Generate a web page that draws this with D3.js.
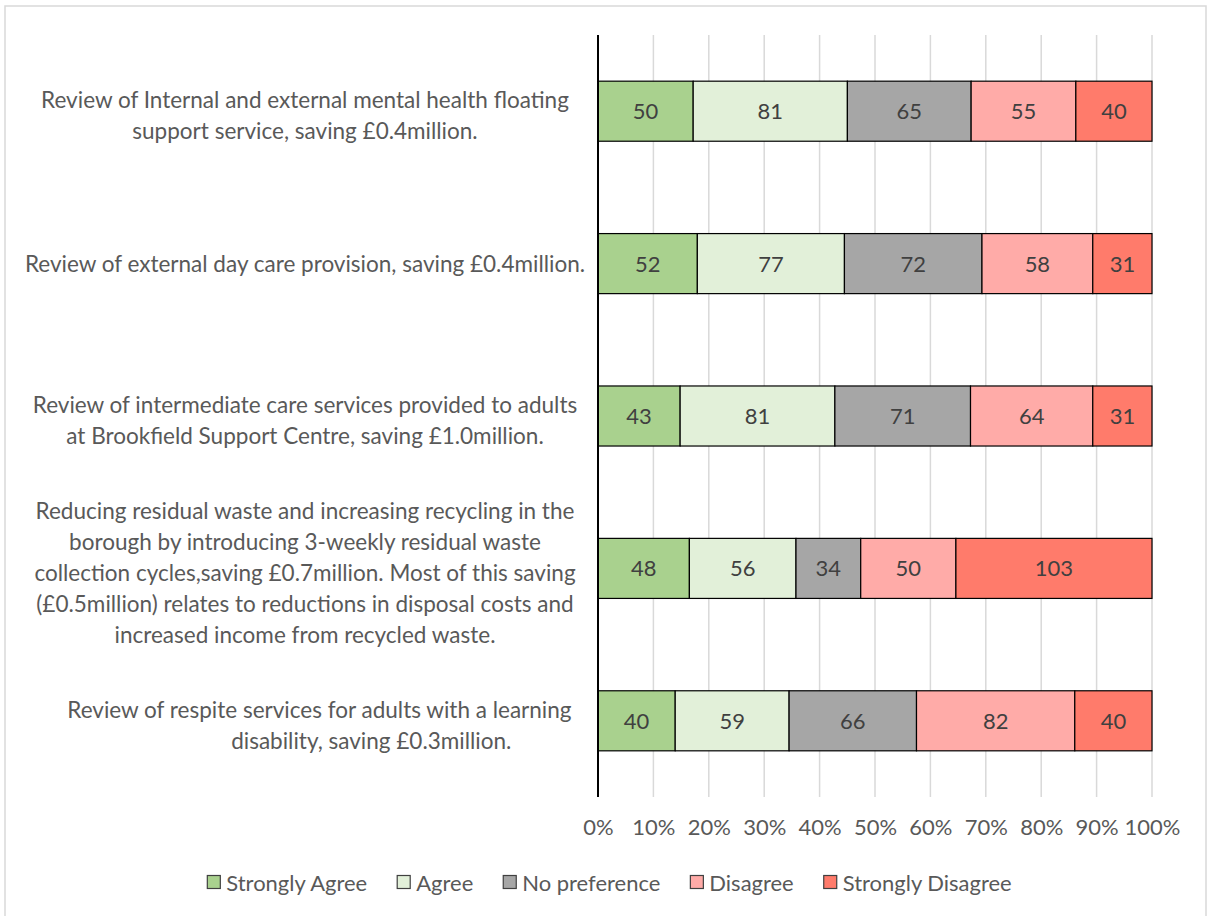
<!DOCTYPE html>
<html>
<head>
<meta charset="utf-8">
<script src="https://cdn.jsdelivr.net/npm/d3@7/dist/d3.min.js"></script>
<style>
  html, body { margin: 0; padding: 0; background: #fff; }
  svg { display: block; }
  text { font-family: Lato, "Open Sans", "DejaVu Sans", sans-serif; }
</style>
</head>
<body>
<svg id="chart" width="1208" height="916"></svg>
<script>
// ---- Data ----
const categories = [
  ["Review of Internal and external mental health floating", "support service, saving £0.4million."],
  ["Review of external day care provision, saving £0.4million."],
  ["Review of intermediate care services provided to adults", "at Brookfield Support Centre, saving £1.0million."],
  ["Reducing residual waste and increasing recycling in the", "borough by introducing 3-weekly residual waste", "collection cycles,saving £0.7million. Most of this saving", "(£0.5million) relates to reductions in disposal costs and", "increased income from recycled waste."],
  ["\u00A0\u00A0\u00A0\u00A0\u00A0Review of respite services for adults with a learning", "\u00A0\u00A0\u00A0\u00A0\u00A0\u00A0\u00A0\u00A0\u00A0\u00A0\u00A0\u00A0\u00A0\u00A0\u00A0\u00A0\u00A0\u00A0\u00A0\u00A0\u00A0\u00A0\u00A0disability, saving £0.3million."]
];
const seriesNames = ["Strongly Agree", "Agree", "No preference", "Disagree", "Strongly Disagree"];
const stronglyAgree    = [50, 52, 43, 48, 40];
const agree            = [81, 77, 81, 56, 59];
const noPreference     = [65, 72, 71, 34, 66];
const disagree         = [55, 58, 64, 50, 82];
const stronglyDisagree = [40, 31, 31, 103, 40];
const tickValues = [0, 0.1, 0.2, 0.3, 0.4, 0.5, 0.6, 0.7, 0.8, 0.9, 1.0];
const colors = ["#A9D18E", "#E2F0D9", "#A6A6A6", "#FFABA8", "#FF7B6B"];

const seriesValues = [stronglyAgree, agree, noPreference, disagree, stronglyDisagree];
const rows = categories.map((c, i) => {
  const o = { idx: i };
  seriesNames.forEach((s, j) => { o[s] = seriesValues[j][i]; });
  return o;
});

const svg = d3.select("#chart");

// font size fitting (Calibri substitute)
const probe = svg.append("text").attr("font-size", 24).text("Strongly Disagree");
const measured = probe.node().getComputedTextLength();
probe.remove();
const fs = 24 * 169 / measured;
const fsCat = fs * 1.025;

// chart frame
svg.append("rect")
  .attr("x", 5).attr("y", 6).attr("width", 1201).attr("height", 940)
  .attr("fill", "none").attr("stroke", "#D9D9D9").attr("stroke-width", 1.5);

const x = d3.scaleLinear().domain([0, 1]).range([598, 1152]);
const y = d3.scaleBand().domain(d3.range(categories.length)).range([35, 797])
  .paddingInner(0.606).paddingOuter(0.303);

// gridlines
svg.append("g").selectAll("line").data(tickValues.slice(1)).join("line")
  .attr("x1", d => x(d)).attr("x2", d => x(d))
  .attr("y1", 35).attr("y2", 797)
  .attr("stroke", "#D9D9D9").attr("stroke-width", 1.5);

// stacked (normalized) data
const stack = d3.stack().keys(seriesNames).offset(d3.stackOffsetExpand);
const stacked = stack(rows);

const gBars = svg.append("g");
stacked.forEach((layer, si) => {
  gBars.append("g").selectAll("rect").data(layer).join("rect")
    .attr("x", d => x(d[0]))
    .attr("y", d => y(d.data.idx))
    .attr("width", d => x(d[1]) - x(d[0]))
    .attr("height", y.bandwidth())
    .attr("fill", colors[si])
    .attr("stroke", "#000").attr("stroke-width", 1.2);
});
// data labels
stacked.forEach((layer, si) => {
  gBars.append("g").selectAll("text").data(layer).join("text")
    .attr("x", d => (x(d[0]) + x(d[1])) / 2)
    .attr("y", d => y(d.data.idx) + y.bandwidth() / 2 - 0.5)
    .attr("text-anchor", "middle").attr("dominant-baseline", "central")
    .attr("font-size", fs).attr("fill", "#404040")
    .text(d => d.data[seriesNames[si]]);
});

// vertical axis line
svg.append("line").attr("x1", x(0)).attr("x2", x(0)).attr("y1", 35).attr("y2", 797)
  .attr("stroke", "#000").attr("stroke-width", 2);

// x axis tick labels
const xAxis = d3.axisBottom(x).tickValues(tickValues).tickFormat(d3.format(".0%")).tickSize(0).tickPadding(0);
const gx = svg.append("g").attr("transform", "translate(0,819)").call(xAxis);
gx.select(".domain").remove();
gx.selectAll("text").attr("font-size", fs).attr("fill", "#595959")
  .attr("font-family", "Lato, 'Open Sans', sans-serif");

// category labels
const lineH = 30.8;
const gCat = svg.append("g");
categories.forEach((lines, i) => {
  const cy = y(i) + y.bandwidth() / 2 + (lines.length > 1 ? 4 : 0);
  const t = gCat.append("text")
    .attr("text-anchor", "middle").attr("font-size", fsCat).attr("fill", "#595959")
    .style("white-space", "pre");
  lines.forEach((ln, k) => {
    t.append("tspan").attr("x", 305)
      .attr("y", cy + (k - (lines.length - 1) / 2) * lineH)
      .attr("dominant-baseline", "central")
      .text(ln);
  });
});

// legend
const legend = svg.append("g");
const items = seriesNames.map((s, i) => {
  const g = legend.append("g");
  g.append("rect").attr("width", 13).attr("height", 13).attr("y", -6.5)
    .attr("fill", colors[i]).attr("stroke", "#404040").attr("stroke-width", 1.2);
  const tx = g.append("text").attr("x", 19).attr("dominant-baseline", "central")
    .attr("font-size", fs).attr("fill", "#595959").text(s);
  return { g, w: 19 + tx.node().getComputedTextLength() };
});
const gap = 30;
const totalW = d3.sum(items, d => d.w) + gap * (items.length - 1);
let lx = 609.5 - totalW / 2;
items.forEach(it => {
  it.g.attr("transform", `translate(${lx},882)`);
  lx += it.w + gap;
});
</script>
</body>
</html>
